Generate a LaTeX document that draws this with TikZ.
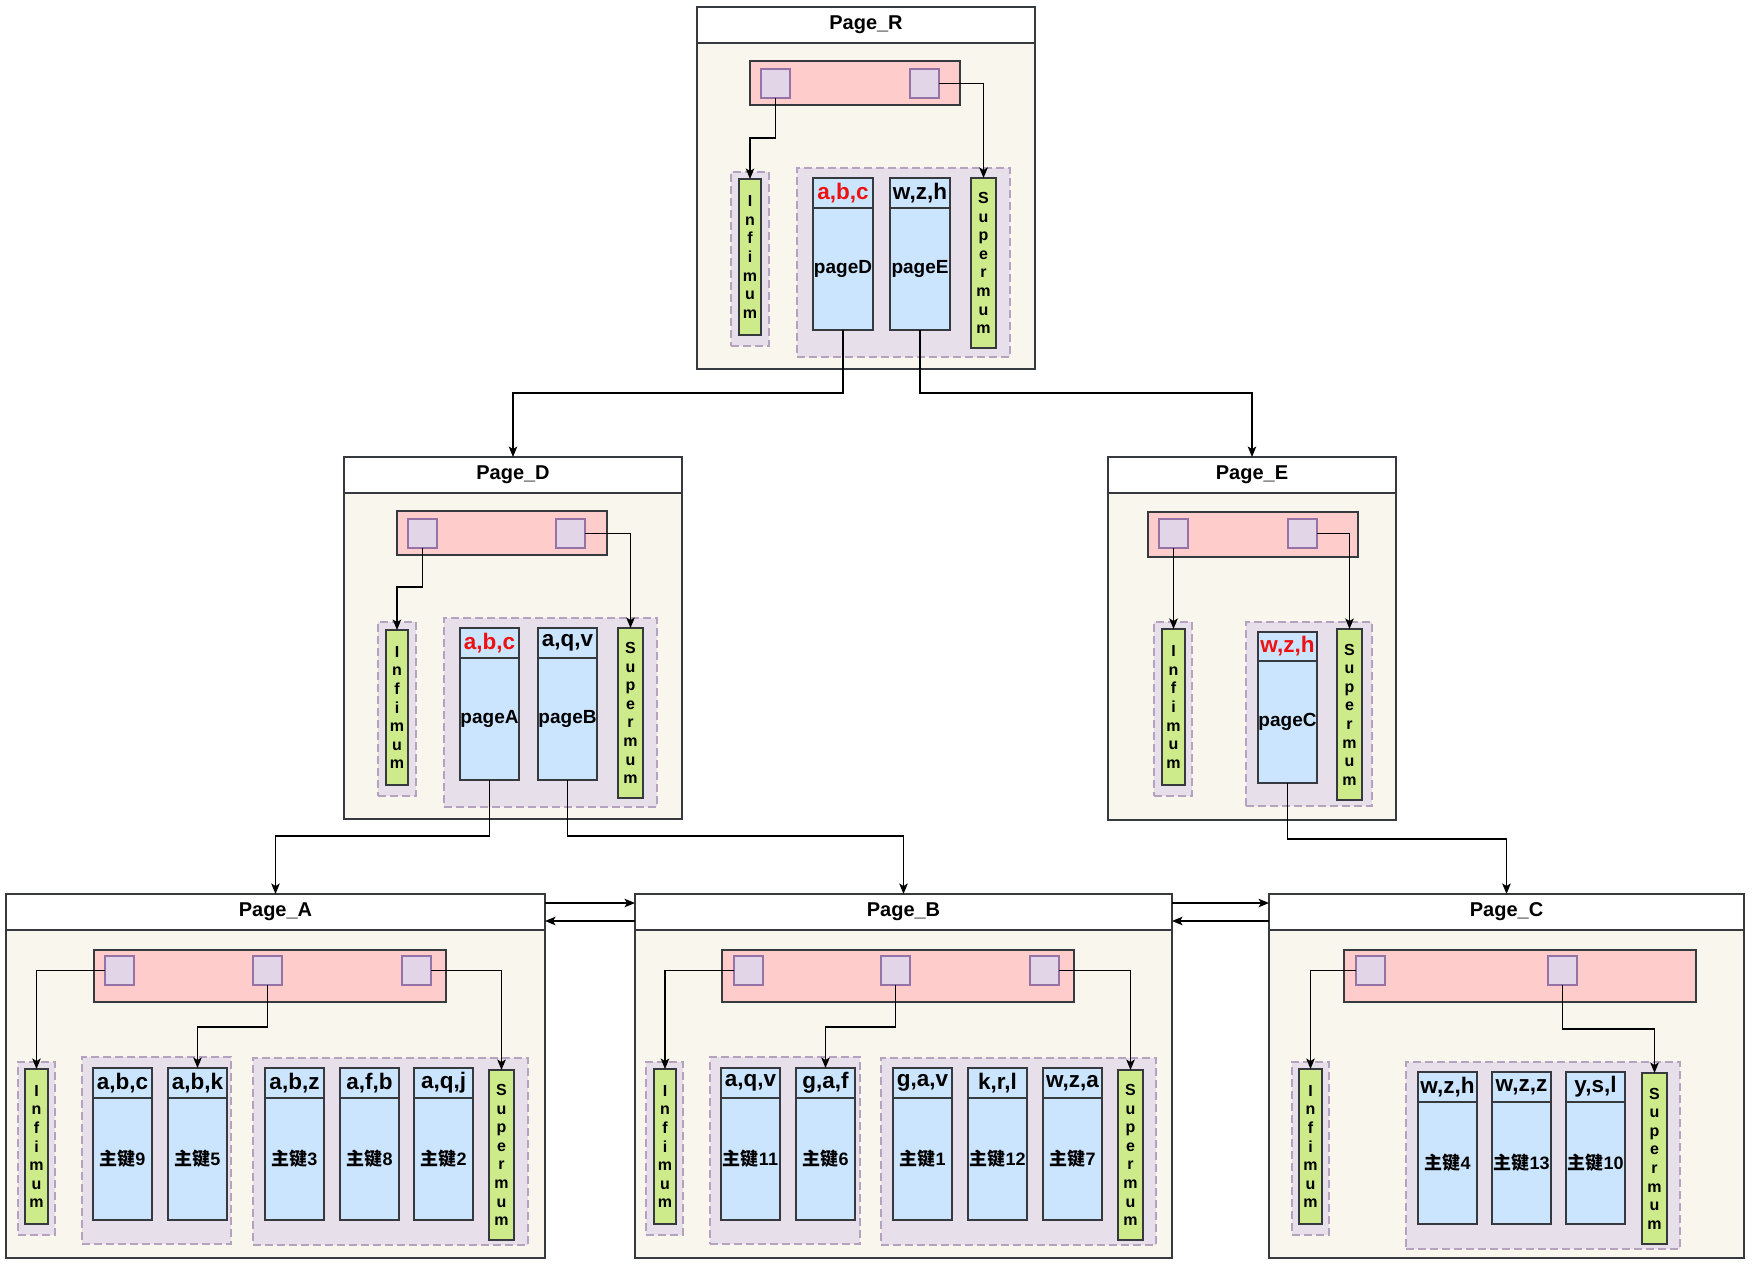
\documentclass[tikz,border=0pt]{standalone}
\usepackage{fontspec}
\setmainfont{Liberation Sans}
\newfontfamily\cjk{Noto Sans CJK SC}
\usetikzlibrary{arrows.meta}

\definecolor{pagebg}{HTML}{F9F7ED}
\definecolor{edge}{HTML}{36393D}
\definecolor{dirbar}{HTML}{FFCCCC}
\definecolor{slotfill}{HTML}{E1D5E7}
\definecolor{slotedge}{HTML}{9673A6}
\definecolor{grpfill}{HTML}{E7E0EA}
\definecolor{grpedge}{HTML}{B4A2BF}
\definecolor{recfill}{HTML}{CCE5FF}
\definecolor{limfill}{HTML}{CDEB8B}
\definecolor{keyred}{HTML}{EE1111}

% box given by its top-left and bottom-right corners (y grows downwards)
\newcommand\rbox[7]{%
  \pgfmathsetmacro\rbW{#5-(#3)}\pgfmathsetmacro\rbH{#6-(#4)}%
  \node[#2,anchor=north west,minimum width=\rbW pt,minimum height=\rbH pt,
        inner sep=0pt,outer sep=0pt] (#1) at (#3,#4) {#7};}
% page: name, x1, x2, top, header bottom, bottom, title
\newcommand\pagebox[7]{%
  \rbox{#1b}{pagebody}{#2}{#5}{#3}{#6}{}%
  \rbox{#1}{pagehead}{#2}{#4}{#3}{#5}{#7}}
% record: name, x1, x2, top, divider, bottom, key, content
\newcommand\record[8]{%
  \rbox{#1h}{rechead}{#2}{#4}{#3}{#5}{#7}%
  \rbox{#1}{recbody}{#2}{#5}{#3}{#6}{#8}}
\newcommand\infimumtxt{I\\n\\f\\i\\m\\u\\m}
\newcommand\supermumtxt{S\\u\\p\\e\\r\\m\\u\\m}
\newcommand\pk[1]{{\fontsize{18}{20}\selectfont{\cjk\bfseries 主键}#1}}

\begin{document}
\begin{tikzpicture}[x=1pt,y=-1pt,
  pagebody/.style={draw=edge,fill=pagebg,line width=1.3pt},
  pagehead/.style={draw=edge,fill=white,line width=1.3pt,font=\fontsize{20}{23}\selectfont\bfseries},
  dirbox/.style={draw=edge,fill=dirbar,line width=1.1pt},
  slot/.style={draw=slotedge,fill=slotfill,line width=1.1pt},
  grp/.style={draw=grpedge,fill=grpfill,dashed,dash pattern=on 8pt off 4pt,line width=1.1pt},
  rechead/.style={draw=edge,fill=recfill,line width=1.1pt,font=\fontsize{22.5}{25}\selectfont\bfseries},
  recbody/.style={draw=edge,fill=recfill,line width=1.1pt,font=\fontsize{19}{22}\selectfont\bfseries},
  limit/.style={draw=edge,fill=limfill,line width=1.1pt,align=center,font=\fontsize{16}{18.6}\selectfont\bfseries},
  arr/.style={line width=1.2pt,-{Stealth[length=10.5pt,width=8.5pt,inset=2.5pt]}},
  link/.style={line width=1.2pt}]
\useasboundingbox (0,0) rectangle (1752,1267);
\fill[white] (0,0) rectangle (1752,1267);

% ---------------- Page_R ----------------
\pagebox{PR}{697}{1035}{7}{43}{369}{Page\_R}
\rbox{Rdir}{dirbox}{750}{61}{960}{105}{}
\rbox{Rs1}{slot}{761}{69}{790}{98}{}
\rbox{Rs2}{slot}{910}{69}{939}{98}{}
\rbox{Rig}{grp}{731}{172}{769}{346}{}
\rbox{Rinf}{limit}{739}{179}{761}{335}{\infimumtxt}
\rbox{Rg}{grp}{797}{168}{1010}{357}{}
\record{RpD}{813}{873}{178}{208}{330}{\color{keyred}a,b,c}{pageD}
\record{RpE}{890}{950}{178}{208}{330}{w,z,h}{pageE}
\rbox{Rsup}{limit}{971}{178}{996}{348}{\supermumtxt}
\draw[arr] (Rs1.south) -- ++(0,40) -| (Rinf.north);
\draw[arr] (Rs2.east) -| (Rsup.north);

% ---------------- Page_D ----------------
\pagebox{PD}{344}{682}{457}{493}{819}{Page\_D}
\rbox{Ddir}{dirbox}{397}{511}{607}{555}{}
\rbox{Ds1}{slot}{408}{519}{437}{548}{}
\rbox{Ds2}{slot}{556}{519}{585}{548}{}
\rbox{Dig}{grp}{378}{622}{416}{796}{}
\rbox{Dinf}{limit}{386}{630}{408}{785}{\infimumtxt}
\rbox{Dg}{grp}{444}{618}{657}{807}{}
\record{DpA}{460}{519}{628}{658}{780}{\color{keyred}a,b,c}{pageA}
\record{DpB}{538}{597}{628}{658}{780}{a,q,v}{pageB}
\rbox{Dsup}{limit}{618}{628}{643}{798}{\supermumtxt}
\draw[arr] (Ds1.south) -- ++(0,39) -| (Dinf.north);
\draw[arr] (Ds2.east) -| (Dsup.north);

% ---------------- Page_E ----------------
\pagebox{PE}{1108}{1396}{457}{493}{820}{Page\_E}
\rbox{Edir}{dirbox}{1148}{512}{1358}{557}{}
\rbox{Es1}{slot}{1159}{519}{1188}{548}{}
\rbox{Es2}{slot}{1288}{519}{1317}{548}{}
\rbox{Eig}{grp}{1154}{622}{1192}{796}{}
\rbox{Einf}{limit}{1162}{629}{1185}{785}{\infimumtxt}
\rbox{Eg}{grp}{1246}{622}{1372}{806}{}
\record{EpC}{1258}{1317}{632}{661}{783}{\color{keyred}w,z,h}{pageC}
\rbox{Esup}{limit}{1337}{629}{1362}{800}{\supermumtxt}
\draw[arr] (Es1.south) -- (Es1.south |- Einf.north);
\draw[arr] (Es2.east) -| (Esup.north);

% ---------------- Page_A ----------------
\pagebox{PA}{6}{545}{894}{930}{1258}{Page\_A}
\rbox{Adir}{dirbox}{94}{950}{446}{1002}{}
\rbox{As1}{slot}{105}{956}{134}{985}{}
\rbox{As2}{slot}{253}{956}{282}{985}{}
\rbox{As3}{slot}{402}{956}{431}{985}{}
\rbox{Aig}{grp}{18}{1062}{55}{1235}{}
\rbox{Ainf}{limit}{25}{1069}{48}{1224}{\infimumtxt}
\rbox{Ag1}{grp}{82}{1057}{231}{1244}{}
\rbox{Ag2}{grp}{253}{1058}{528}{1245}{}
\record{Ar1}{93}{152}{1068}{1098}{1220}{a,b,c}{\pk{9}}
\record{Ar2}{168}{227}{1068}{1098}{1220}{a,b,k}{\pk{5}}
\record{Ar3}{265}{324}{1068}{1098}{1220}{a,b,z}{\pk{3}}
\record{Ar4}{340}{399}{1068}{1098}{1220}{a,f,b}{\pk{8}}
\record{Ar5}{414}{473}{1068}{1098}{1220}{a,q,j}{\pk{2}}
\rbox{Asup}{limit}{489}{1070}{514}{1240}{\supermumtxt}
\draw[arr] (As1.west) -| (Ainf.north);
\draw[arr] (As2.south) -- ++(0,42) -| (Ar2h.north);
\draw[arr] (As3.east) -| (Asup.north);

% ---------------- Page_B ----------------
\pagebox{PB}{635}{1172}{894}{930}{1258}{Page\_B}
\rbox{Bdir}{dirbox}{722}{950}{1074}{1002}{}
\rbox{Bs1}{slot}{734}{956}{763}{985}{}
\rbox{Bs2}{slot}{881}{956}{910}{985}{}
\rbox{Bs3}{slot}{1030}{956}{1059}{985}{}
\rbox{Big}{grp}{646}{1062}{683}{1235}{}
\rbox{Binf}{limit}{654}{1069}{676}{1224}{\infimumtxt}
\rbox{Bg1}{grp}{710}{1057}{860}{1244}{}
\rbox{Bg2}{grp}{881}{1058}{1156}{1245}{}
\record{Br1}{721}{780}{1068}{1098}{1220}{a,q,v}{\pk{11}}
\record{Br2}{796}{855}{1068}{1098}{1220}{g,a,f}{\pk{6}}
\record{Br3}{893}{952}{1068}{1098}{1220}{g,a,v}{\pk{1}}
\record{Br4}{968}{1027}{1068}{1098}{1220}{k,r,l}{\pk{12}}
\record{Br5}{1043}{1102}{1068}{1098}{1220}{w,z,a}{\pk{7}}
\rbox{Bsup}{limit}{1118}{1070}{1143}{1240}{\supermumtxt}
\draw[arr] (Bs1.west) -| (Binf.north);
\draw[arr] (Bs2.south) -- ++(0,42) -| (Br2h.north);
\draw[arr] (Bs3.east) -| (Bsup.north);

% ---------------- Page_C ----------------
\pagebox{PC}{1269}{1744}{894}{930}{1258}{Page\_C}
\rbox{Cdir}{dirbox}{1344}{950}{1696}{1002}{}
\rbox{Cs1}{slot}{1356}{956}{1385}{985}{}
\rbox{Cs2}{slot}{1548}{956}{1577}{985}{}
\rbox{Cig}{grp}{1292}{1062}{1329}{1235}{}
\rbox{Cinf}{limit}{1299}{1069}{1322}{1224}{\infimumtxt}
\rbox{Cg}{grp}{1406}{1062}{1680}{1249}{}
\record{Cr1}{1418}{1477}{1072}{1102}{1224}{w,z,h}{\pk{4}}
\record{Cr2}{1492}{1551}{1072}{1102}{1224}{w,z,z}{\pk{13}}
\record{Cr3}{1566}{1625}{1072}{1102}{1224}{y,s,l}{\pk{10}}
\rbox{Csup}{limit}{1642}{1073}{1667}{1244}{\supermumtxt}
\draw[arr] (Cs1.west) -| (Cinf.north);
\draw[arr] (Cs2.south) -- ++(0,44) -| (Csup.north);

% ---------------- tree links ----------------
\draw[arr] (RpD.south) -- ++(0,63) -| (PD.north);
\draw[arr] (RpE.south) -- ++(0,63) -| (PE.north);
\draw[arr] (DpA.south) -- ++(0,56) -| (PA.north);
\draw[arr] (DpB.south) -- ++(0,56) -| (PB.north);
\draw[arr] (EpC.south) -- ++(0,56) -| (PC.north);

% ---------------- sibling links ----------------
\draw[arr] ([yshift=9pt]PA.east) -- ([yshift=9pt]PA.east -| PB.west);
\draw[arr] ([yshift=-9pt]PB.west) -- ([yshift=-9pt]PB.west -| PA.east);
\draw[arr] ([yshift=9pt]PB.east) -- ([yshift=9pt]PB.east -| PC.west);
\draw[arr] ([yshift=-9pt]PC.west) -- ([yshift=-9pt]PC.west -| PB.east);
\end{tikzpicture}
\end{document}
